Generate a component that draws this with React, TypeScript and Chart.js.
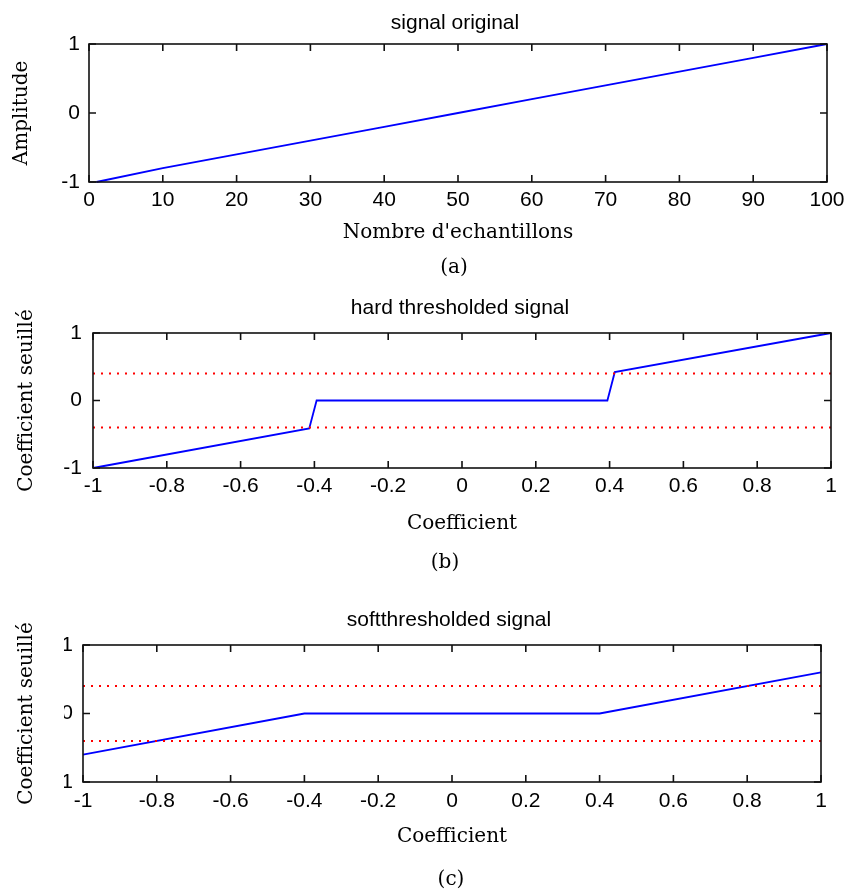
import React, { useEffect, useRef } from "react";
import { Chart, registerables } from "chart.js";

Chart.register(...registerables);

// ---------- data ----------
const SAMPLE_X = [1, 10, 20, 30, 40, 50, 60, 70, 80, 90, 100];
const SAMPLE_Y = [-1, -0.8, -0.6, -0.4, -0.2, 0, 0.2, 0.4, 0.6, 0.8, 1];

const HARD_X = [-1, -0.414, -0.394, 0.394, 0.414, 1];
const HARD_Y = [-1, -0.414, 0, 0, 0.42, 1];

const SOFT_X = [-1, -0.4, 0.4, 1];
const SOFT_Y = [-0.6, 0, 0, 0.6];

const THRESH_X = [-1, 1];
const THRESH_POS = [0.4, 0.4];
const THRESH_NEG = [-0.4, -0.4];

const TICKS_SAMPLES = [0, 10, 20, 30, 40, 50, 60, 70, 80, 90, 100];
const TICKS_COEF = [-1, -0.8, -0.6, -0.4, -0.2, 0, 0.2, 0.4, 0.6, 0.8, 1];
const TICKS_Y = [-1, 0, 1];

const TITLES = ["signal original", "hard thresholded signal", "softthresholded signal"];
const CAPTIONS = ["(a)", "(b)", "(c)"];
const X_TITLES = ["Nombre d'echantillons", "Coefficient", "Coefficient"];
const Y_TITLES = ["Amplitude", "Coefficient seuillé", "Coefficient seuillé"];

// ---------- styles ----------
const SANS = '"Liberation Sans", Arial, sans-serif';
const SERIF = '"DejaVu Serif", serif';
const BLUE = "#0000ff";
const RED = "#ff0000";

const pts = (xs: number[], ys: number[]) => xs.map((x, i) => ({ x, y: ys[i] }));
const fmt = (v: number) => String(Math.round(v * 10) / 10);

const framePlugin = {
  id: "frame",
  afterDraw(chart: any, _args: any, opts: any) {
    const { ctx } = chart;
    const { left, right, top, bottom } = chart.chartArea;
    const xs = chart.scales.x;
    const ys = chart.scales.y;
    ctx.save();
    ctx.strokeStyle = "#111";
    ctx.lineWidth = 1.6;
    ctx.strokeRect(left, top, right - left, bottom - top);
    const L = 7;
    ctx.beginPath();
    xs.ticks.forEach((t: any) => {
      const p = xs.getPixelForValue(t.value);
      ctx.moveTo(p, bottom);
      ctx.lineTo(p, bottom - L);
      ctx.moveTo(p, top);
      ctx.lineTo(p, top + L);
    });
    ys.ticks.forEach((t: any) => {
      const p = ys.getPixelForValue(t.value);
      ctx.moveTo(left, p);
      ctx.lineTo(left + L, p);
      ctx.moveTo(right, p);
      ctx.lineTo(right - L, p);
    });
    ctx.stroke();
    ctx.fillStyle = "#000";
    ctx.textAlign = "center";
    ctx.textBaseline = "middle";
    ctx.font = `21px ${SANS}`;
    ctx.fillText(opts.title, opts.titleX, opts.titleY);
    ctx.font = `20px ${SERIF}`;
    ctx.fillText(opts.caption, opts.captionX, opts.captionY);
    ctx.restore();
  },
};

type Panel = {
  top: number;
  height: number;
  pad: { top: number; right: number; bottom: number };
  yWidth: number;
  xHeight: number;
  xMin: number;
  xMax: number;
  xTicks: number[];
  xTickPad: number;
  yTickPad: number;
  xTitlePad: number;
  yTitlePad: number;
  titleX: number;
  titleY: number;
  captionX: number;
  captionY: number;
  idx: number;
  datasets: any[];
};

function makeConfig(p: Panel): any {
  return {
    type: "line",
    data: { datasets: p.datasets },
    options: {
      animation: false,
      responsive: true,
      maintainAspectRatio: false,
      layout: { padding: { left: 0, top: p.pad.top, right: p.pad.right, bottom: p.pad.bottom } },
      plugins: {
        legend: { display: false },
        tooltip: { enabled: false },
        frame: {
          title: TITLES[p.idx],
          caption: CAPTIONS[p.idx],
          titleX: p.titleX,
          titleY: p.titleY,
          captionX: p.captionX,
          captionY: p.captionY,
        },
      },
      scales: {
        x: {
          type: "linear",
          min: p.xMin,
          max: p.xMax,
          afterBuildTicks: (s: any) => {
            s.ticks = p.xTicks.map((v) => ({ value: v }));
          },
          afterFit: (s: any) => {
            s.height = p.xHeight;
            s.paddingLeft = 0;
            s.paddingRight = 0;
          },
          grid: { display: false, drawTicks: false },
          border: { display: false },
          ticks: {
            padding: p.xTickPad,
            autoSkip: false,
            maxRotation: 0,
            minRotation: 0,
            color: "#000",
            font: { family: SANS, size: 21 },
            callback: (v: any) => fmt(Number(v)),
          },
          title: {
            display: true,
            text: X_TITLES[p.idx],
            color: "#000",
            font: { family: SERIF, size: 20, lineHeight: 1.2 },
            padding: { top: 0, bottom: p.xTitlePad },
          },
        },
        y: {
          type: "linear",
          min: -1,
          max: 1,
          afterBuildTicks: (s: any) => {
            s.ticks = TICKS_Y.map((v) => ({ value: v }));
          },
          afterFit: (s: any) => {
            s.width = p.yWidth;
            s.paddingTop = 0;
            s.paddingBottom = 0;
          },
          grid: { display: false, drawTicks: false },
          border: { display: false },
          ticks: {
            padding: p.yTickPad,
            autoSkip: false,
            color: "#000",
            font: { family: SANS, size: 21 },
            callback: (v: any) => fmt(Number(v)),
          },
          title: {
            display: true,
            text: Y_TITLES[p.idx],
            color: "#000",
            font: { family: SERIF, size: 20, lineHeight: 1.2 },
            padding: { top: p.yTitlePad, bottom: 0 },
          },
        },
      },
    },
    plugins: [framePlugin],
  };
}

const signalLine = (data: any[]) => ({
  data,
  borderColor: BLUE,
  borderWidth: 1.8,
  pointRadius: 0,
  tension: 0,
  fill: false,
  clip: 3,
});
const thresholdLine = (data: any[]) => ({
  data,
  borderColor: RED,
  borderWidth: 2,
  borderDash: [2, 6],
  pointRadius: 0,
  tension: 0,
  fill: false,
  clip: 3,
});

const PANELS: Panel[] = [
  {
    idx: 0,
    top: 0,
    height: 290,
    pad: { top: 44, right: 19, bottom: 40 },
    yWidth: 89,
    xHeight: 68,
    xMin: 0,
    xMax: 100,
    xTicks: TICKS_SAMPLES,
    xTickPad: 6,
    yTickPad: 9,
    xTitlePad: 5,
    yTitlePad: 10,
    titleX: 455,
    titleY: 23,
    captionX: 454,
    captionY: 268,
    datasets: [signalLine(pts(SAMPLE_X, SAMPLE_Y))],
  },
  {
    idx: 1,
    top: 290,
    height: 300,
    pad: { top: 43, right: 15, bottom: 50 },
    yWidth: 93,
    xHeight: 72,
    xMin: -1,
    xMax: 1,
    xTicks: TICKS_COEF,
    xTickPad: 6,
    yTickPad: 11,
    xTitlePad: 4,
    yTitlePad: 15,
    titleX: 460,
    titleY: 18,
    captionX: 445,
    captionY: 273,
    datasets: [
      thresholdLine(pts(THRESH_X, THRESH_POS)),
      thresholdLine(pts(THRESH_X, THRESH_NEG)),
      signalLine(pts(HARD_X, HARD_Y)),
    ],
  },
  {
    idx: 2,
    top: 590,
    height: 304,
    pad: { top: 55, right: 25, bottom: 40 },
    yWidth: 83,
    xHeight: 72,
    xMin: -1,
    xMax: 1,
    xTicks: TICKS_COEF,
    xTickPad: 7,
    yTickPad: 10,
    xTitlePad: 5,
    yTitlePad: 15,
    titleX: 449,
    titleY: 30,
    captionX: 451,
    captionY: 290,
    datasets: [
      thresholdLine(pts(THRESH_X, THRESH_POS)),
      thresholdLine(pts(THRESH_X, THRESH_NEG)),
      signalLine(pts(SOFT_X, SOFT_Y)),
    ],
  },
];

export default function App() {
  const r0 = useRef<HTMLCanvasElement | null>(null);
  const r1 = useRef<HTMLCanvasElement | null>(null);
  const r2 = useRef<HTMLCanvasElement | null>(null);
  const refs = [r0, r1, r2];

  useEffect(() => {
    const charts = PANELS.map((p, i) => new Chart(refs[i].current as HTMLCanvasElement, makeConfig(p)));
    return () => charts.forEach((c) => c.destroy());
  }, []);

  return (
    <div style={{ position: "absolute", left: 0, top: 0, width: 846, height: 894, background: "#fff" }}>
      {PANELS.map((p, i) => (
        <div
          key={i}
          style={{ position: "absolute", left: 0, top: p.top, width: 846, height: p.height }}
        >
          <canvas ref={refs[i]} />
        </div>
      ))}
      <div style={{ position: "absolute", left: 41, top: 634, width: 23, height: 160, background: "#fff" }} />
    </div>
  );
}
